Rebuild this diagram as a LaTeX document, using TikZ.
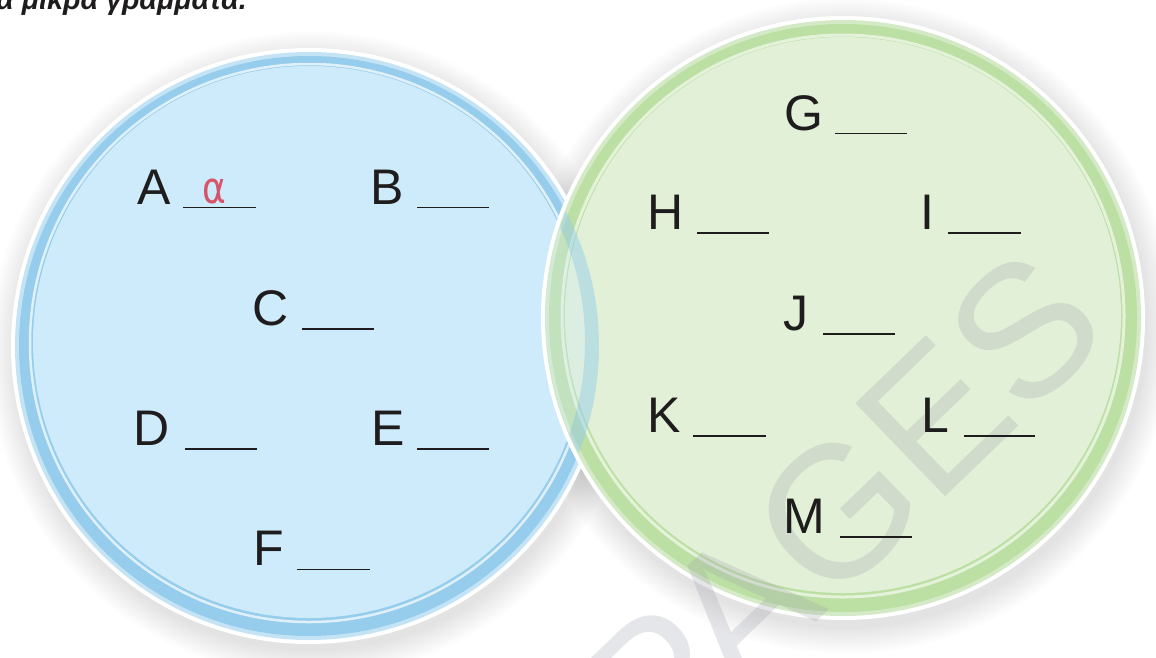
\documentclass[tikz,border=0pt]{standalone}
\usepackage{fontspec}
\setmainfont{Liberation Sans}
\newfontfamily\dejavu{DejaVu Sans}
\usetikzlibrary{calc}
\definecolor{blueFill}{RGB}{206,235,251}
\definecolor{bluePale}{RGB}{196,228,246}
\definecolor{blueRing}{RGB}{150,205,236}
\definecolor{greenFill}{RGB}{226,240,215}
\definecolor{greenPale}{RGB}{212,234,198}
\definecolor{greenRing}{RGB}{188,223,163}
\definecolor{labelc}{RGB}{30,28,28}
\definecolor{redans}{RGB}{214,84,104}
\definecolor{wmc}{RGB}{158,160,172}
\begin{document}
\begin{tikzpicture}[x=1pt,y=-1pt,
  lbl/.style={font=\fontsize{50}{60}\selectfont, anchor=base west, inner sep=0pt, text=labelc},
  blank/.style={line width=1.5pt, draw=labelc},
  shadowc/.style={fill=black, opacity=0.009}]
\useasboundingbox (0,0) rectangle (1156,657);
\clip (0,0) rectangle (1156,657);
\fill[white] (0,0) rectangle (1156,657);
\coordinate (B) at (309,346);
\coordinate (G) at (843,318);
% soft shadows
\foreach \k in {0,...,13}{
  \fill[shadowc] ($(B)+(3,8)$) circle ({297pt+2pt*\k});
  \fill[shadowc] ($(G)+(3,8)$) circle ({302pt+2pt*\k});
}
% blue circle
\fill[white] (B) circle (298pt);
\fill[bluePale] (B) circle (294pt);
\fill[blueRing] (B) circle (290pt);
\draw[white, opacity=.7, line width=2.5pt] ($(B)+(0,-3)$) circle (279pt);
\fill[blueFill] ($(B)+(0,-4)$) circle (276pt);
% green circle
\fill[white] (G) circle (302pt);
\fill[greenPale] (G) circle (298pt);
\fill[greenRing] (G) circle (294pt);
\draw[white, opacity=.6, line width=3pt] ($(G)+(0,-2)$) circle (281pt);
\fill[greenFill] ($(G)+(0,-3)$) circle (278pt);
% blue seen through green
\begin{scope}
  \clip (G) circle (297pt);
  \fill[blueFill, opacity=.3] ($(B)+(0,-4)$) circle (276pt);
  \fill[blueRing, opacity=.5, even odd rule] (B) circle (290pt) ($(B)+(0,-4)$) circle (276pt);
\end{scope}
% watermark
\node[rotate=44, font=\fontsize{188}{188}\selectfont, text=wmc, text opacity=.26, inner sep=0pt] (wm) at (842,507) {PAGES};
% top text (cut off)
\node[anchor=base west, inner sep=0pt, text=labelc, font=\fontsize{28.6}{30}\selectfont\bfseries\itshape] (title) at (-4,9) {α μικρά γράμματα.};
% labels
\node[lbl] (A) at (137,204) {A};
\node[lbl] (Bl) at (370,204) {B};
\node[lbl] (C) at (252.5,325) {C};
\node[lbl] (D) at (133,445) {D};
\node[lbl] (E) at (371,445) {E};
\node[lbl] (F) at (253,565) {F};
\node[lbl] (Gl) at (784.5,130) {G};
\node[lbl] (H) at (647,229) {H};
\node[lbl] (I) at (920,229) {I};
\node[lbl] (J) at (783.5,330) {J};
\node[lbl] (K) at (647,432) {K};
\node[lbl] (L) at (921,432) {L};
\node[lbl] (M) at (783,533) {M};
% blanks
\draw[blank] (183,207.5) -- (256,207.5);
\draw[blank] (417,207.5) -- (489,207.5);
\draw[blank] (302,329) -- (374,329);
\draw[blank] (185,449) -- (257,449);
\draw[blank] (417,449) -- (489,449);
\draw[blank] (297,569.5) -- (370,569.5);
\draw[blank] (835,133.5) -- (907,133.5);
\draw[blank] (697,233) -- (769,233);
\draw[blank] (948,233) -- (1021,233);
\draw[blank] (823,334) -- (895,334);
\draw[blank] (693,436) -- (766,436);
\draw[blank] (964,436) -- (1035,436);
\draw[blank] (840,537) -- (912,537);
% sample answer
\node[anchor=base, inner sep=0pt, xscale=.82, text=redans, font=\dejavu\fontsize{44}{50}\selectfont] (ans) at (214.5,203) {α};
\end{tikzpicture}
\end{document}
